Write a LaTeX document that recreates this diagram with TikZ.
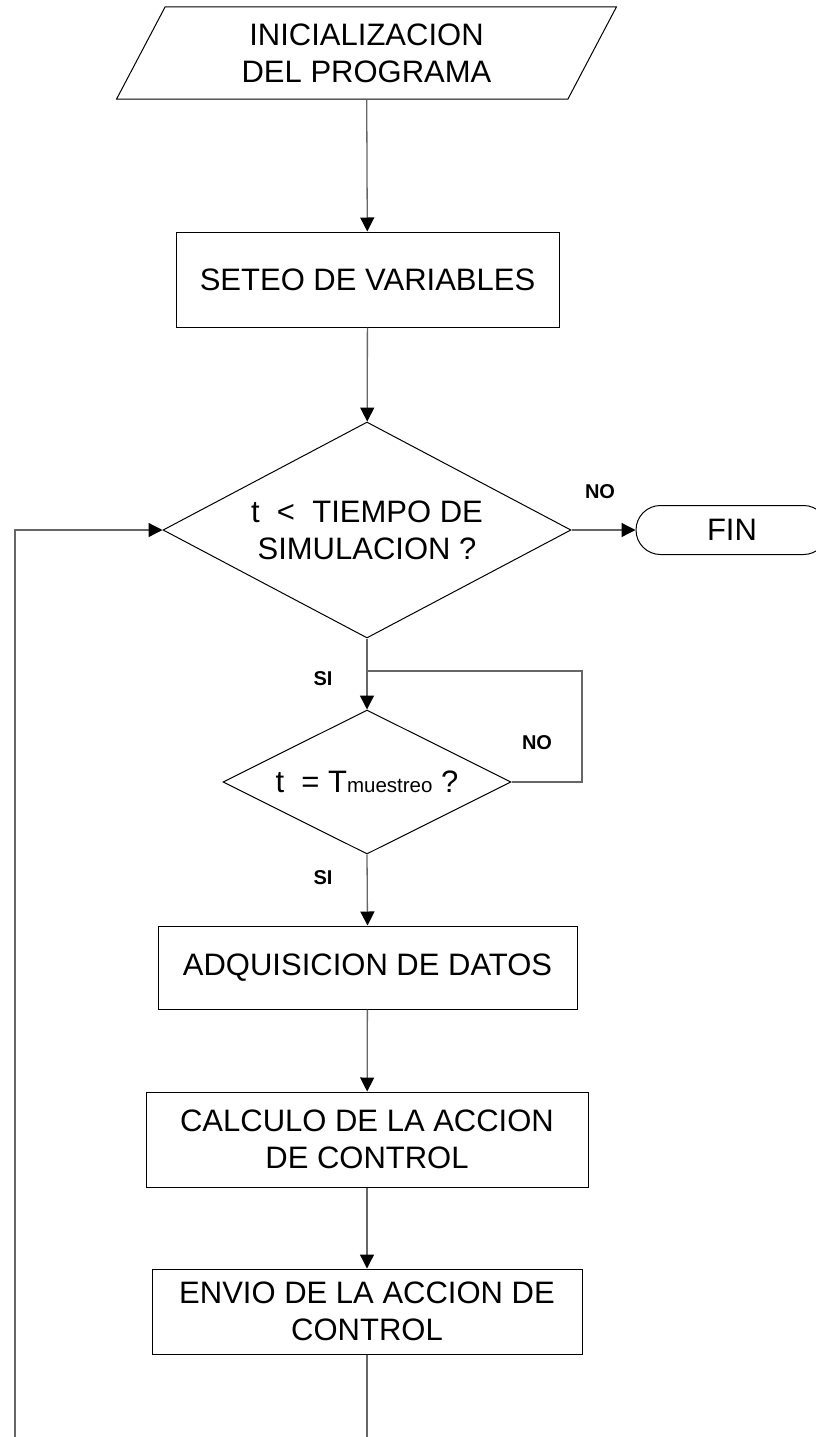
\documentclass[tikz,border=0pt]{standalone}
\usepackage{fontspec}
\setmainfont{Liberation Sans}
\usetikzlibrary{arrows.meta, shapes.geometric}
\tikzset{
  >={Triangle[length=14pt,width=14pt,color=black]},
  % Bloques del diagrama
  base/.style={draw=black,line width=1pt,inner sep=0pt,align=center,
    font=\fontsize{31}{37}\selectfont},
  proceso/.style={base,rectangle},
  entrada/.style={base,trapezium,trapezium left angle=63,trapezium right angle=117,
    trapezium stretches=true},
  decision/.style={base,diamond},
  terminal/.style={base,rectangle,rounded corners=24.5pt},
  % Conexiones
  flecha/.style={->,line width=1.3pt,draw=black!60},
  linea/.style={line width=1.3pt,draw=black!60},
  rotulo/.style={font=\fontsize{20}{24}\bfseries}
}

\begin{document}
\begin{tikzpicture}[x=1pt,y=-1pt]
  \useasboundingbox (0,0) rectangle (816,1437);
  % nodos
  \node[entrada,minimum width=501pt,minimum height=92pt] (ini) at (366.5,53) {INICIALIZACION\\DEL PROGRAMA};
  \node[proceso,minimum width=383pt,minimum height=95pt] (seteo) at (367.5,279.5) {SETEO DE VARIABLES};
  \node[decision,minimum width=408pt,minimum height=216pt,aspect=1.89] (tsim) at (367,530) {t\ \ <\ \ TIEMPO DE\\SIMULACION ?};
  \node[terminal,minimum width=192pt,minimum height=49pt] (fin) at (732,530) {FIN};
  \node[decision,minimum width=288pt,minimum height=144pt,aspect=2] (tmue) at (367,782) {t\ \ = T{\fontsize{20.5}{24}\selectfont muestreo} ?};
  \node[proceso,minimum width=419pt,minimum height=83pt] (adq) at (367.5,967.5) {ADQUISICION DE DATOS};
  \node[proceso,minimum width=442pt,minimum height=95pt] (calc) at (367,1139.5) {CALCULO DE LA ACCION\\DE CONTROL};
  \node[proceso,minimum width=430pt,minimum height=85pt] (envio) at (367,1311.5) {ENVIO DE LA ACCION DE\\CONTROL};
  % rotulos
  \node[rotulo] (no1) at (600,492) {NO};
  \node[rotulo] (si1) at (323,679) {SI};
  \node[rotulo] (no2) at (537,743) {NO};
  \node[rotulo] (si2) at (323,878) {SI};
  % puntos auxiliares
  \coordinate (union) at (367,671);
  \coordinate (lazo) at (582,671);
  \coordinate (abajo) at (367,1437);
  \coordinate (retorno) at (15,1437);
  % conexiones
  \draw[flecha] (ini) -- (seteo);
  \draw[flecha] (seteo) -- (tsim);
  \draw[flecha] (tsim.east) -- (fin.west);
  \draw[flecha] (tsim.south) -- (tmue.north);
  \draw[linea] (tmue.east) -| (lazo) -- (union);
  \draw[flecha] (tmue.south) -- (adq.north);
  \draw[flecha] (adq) -- (calc);
  \draw[flecha] (calc) -- (envio);
  \draw[linea] (envio.south) -- (abajo);
  \draw[flecha] (retorno) |- (tsim.west);
\end{tikzpicture}
\end{document}
